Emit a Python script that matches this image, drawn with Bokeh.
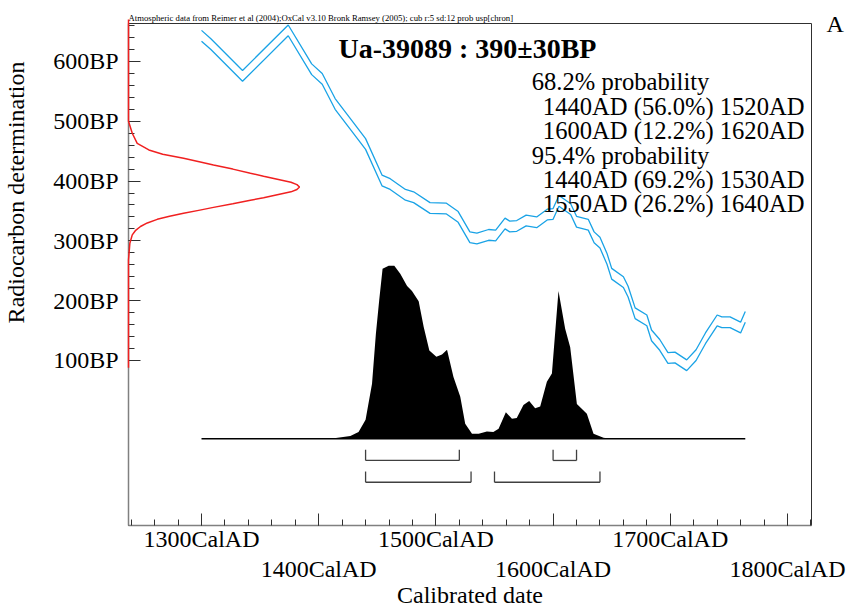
import numpy as np
from bokeh.plotting import figure
from bokeh.models import Range1d, FixedTicker, LinearAxis, Label, Title
from bokeh.embed import file_html
from bokeh.resources import INLINE

FONT = "Liberation Serif"

# ---------------- data ----------------
# calibration curve (mean BP, +/- sigma)
cal_years = [1300, 1308, 1335, 1374, 1394, 1403, 1414, 1428, 1440, 1454, 1461, 1474,
             1481, 1495, 1509, 1519, 1529, 1535, 1545, 1551, 1559, 1563, 1569, 1577,
             1586, 1595, 1600, 1605, 1615, 1620, 1630, 1635, 1640, 1646, 1650, 1660,
             1664, 1670, 1680, 1684, 1691, 1698, 1704, 1714, 1722, 1730, 1740, 1744,
             1751, 1760, 1764]
cal_bp = [643, 629, 576, 652, 587, 571, 529, 493, 462, 401, 395, 377,
          373, 355, 354, 340, 306, 304, 310, 309, 329, 324, 325, 334,
          331, 344, 345, 367, 353, 332, 327, 306, 297, 270, 245, 231,
          215, 179, 167, 142, 126, 104, 105, 92, 109, 137, 167, 164,
          164, 155, 173]
cal_sigma = 9

# posterior (relative probability)
post_years = [1300, 1410, 1427, 1434, 1440, 1445.5, 1448.8, 1451.6, 1454.5, 1459.7, 1464.5,
              1469.6, 1475.4, 1479.6, 1485.3, 1489.6, 1494.4, 1500.4, 1505.2, 1509.5,
              1515, 1520.8, 1525, 1530.8, 1536.5, 1543.5, 1549, 1553.5, 1559.7, 1564.9,
              1569, 1574.7, 1579.6, 1584.7, 1589, 1594.7, 1599, 1604.6, 1610.3, 1614.6,
              1620.3, 1628.8, 1634.5, 1643, 1648.7, 1764]
post_prob = [0, 0, 0.017, 0.039, 0.11, 0.318, 0.607, 0.80, 0.983, 1.0, 1.0,
             0.954, 0.884, 0.855, 0.795, 0.647, 0.51, 0.474, 0.488, 0.515,
             0.357, 0.243, 0.087, 0.030, 0.029, 0.042, 0.039, 0.058, 0.154, 0.116,
             0.120, 0.195, 0.218, 0.177, 0.187, 0.33, 0.378, 0.854, 0.636, 0.530,
             0.202, 0.145, 0.029, 0.006, 0, 0]

# radiocarbon date distribution on the BP axis (relative density)
date_bp = [670, 500, 480, 463, 452, 445, 438, 432, 427, 420, 413, 408, 403, 398, 394,
           390, 386, 382, 377, 372, 368, 362, 356, 351, 346, 341, 336, 330, 324, 317,
           310, 296, 268, 88]
date_density = [0, 0, 0.022, 0.051, 0.119, 0.20, 0.322, 0.42, 0.497, 0.61, 0.713, 0.79,
                0.870, 0.95, 0.985, 1.0, 0.985, 0.95, 0.870, 0.79, 0.713, 0.61, 0.497,
                0.41, 0.322, 0.24, 0.168, 0.11, 0.070, 0.04, 0.022, 0.008, 0, 0]

# highest probability ranges
range68_from = [1440, 1600]
range68_to = [1520, 1620]
range95_from = [1440, 1550]
range95_to = [1530, 1640]

y_ticks = [100, 200, 300, 400, 500, 600]
y_tick_labels = ["100BP", "200BP", "300BP", "400BP", "500BP", "600BP"]
x_ticks_row1 = [1300, 1500, 1700]
x_labels_row1 = ["1300CalAD", "1500CalAD", "1700CalAD"]
x_ticks_row2 = [1400, 1600, 1800]
x_labels_row2 = ["1400CalAD", "1600CalAD", "1800CalAD"]

title_text = "Ua-39089 : 390\u00b130BP"
subtitle_text = ("Atmospheric data from Reimer et al (2004);OxCal v3.10 Bronk Ramsey (2005); "
                 "cub r:5 sd:12 prob usp[chron]")
prob_headers = ["68.2% probability", "95.4% probability"]
prob_ranges68 = ["1440AD (56.0%) 1520AD", "1600AD (12.2%) 1620AD"]
prob_ranges95 = ["1440AD (69.2%) 1530AD", "1550AD (26.2%) 1640AD"]
x_axis_title = "Calibrated date"
y_axis_title = "Radiocarbon determination"
corner_text = "A"

# ---------------- figure ----------------
p = figure(width=848, height=610,
           x_range=Range1d(1237.7, 1820.5), y_range=Range1d(-176, 663.5),
           output_backend="svg", toolbar_location=None,
           x_axis_location=None, y_axis_location=None,
           min_border_left=128, min_border_right=37,
           min_border_top=23, min_border_bottom=85)
p.extra_y_ranges = {"prob": Range1d(-0.501, 2.401)}
p.extra_x_ranges = {"dens": Range1d(0, 3.994)}
p.outline_line_color = "#303030"
p.outline_line_width = 1
p.background_fill_color = "white"
p.border_fill_color = "white"
p.grid.visible = False
p.grid.grid_line_color = None

AX_COL = "#808080"
TICK_COL = "#303030"


def style_axis(ax, standoff):
    ax.axis_line_color = AX_COL
    ax.axis_line_width = 1.5
    ax.major_tick_in = 12
    ax.major_tick_out = 0
    ax.minor_tick_in = 6
    ax.minor_tick_out = 0
    ax.major_tick_line_color = TICK_COL
    ax.minor_tick_line_color = TICK_COL
    ax.major_label_text_font = FONT
    ax.major_label_text_font_size = "24px"
    ax.major_label_text_color = "black"
    ax.major_label_standoff = standoff


def bare_axis(ax):
    ax.axis_line_color = None
    ax.major_tick_line_color = None
    ax.minor_tick_line_color = None


all_x_ticks = sorted(x_ticks_row1 + x_ticks_row2)
overrides1 = {t: "" for t in all_x_ticks}
overrides1.update(dict(zip(x_ticks_row1, x_labels_row1)))
xaxis1 = LinearAxis(ticker=FixedTicker(ticks=all_x_ticks,
                                       minor_ticks=list(range(1240, 1821, 20))),
                    major_label_overrides=overrides1)
style_axis(xaxis1, 0)
p.add_layout(xaxis1, "below")

xaxis2 = LinearAxis(ticker=FixedTicker(ticks=x_ticks_row2, minor_ticks=[]),
                    major_label_overrides=dict(zip(x_ticks_row2, x_labels_row2)))
style_axis(xaxis2, 1)
bare_axis(xaxis2)
xaxis2.axis_label = x_axis_title
xaxis2.axis_label_text_font = FONT
xaxis2.axis_label_text_font_size = "24px"
xaxis2.axis_label_text_font_style = "normal"
xaxis2.axis_label_text_color = "black"
xaxis2.axis_label_standoff = -3
p.add_layout(xaxis2, "below")

yaxis = LinearAxis(ticker=FixedTicker(ticks=y_ticks, minor_ticks=list(range(120, 661, 20))),
                   major_label_overrides=dict(zip(y_ticks, y_tick_labels)))
style_axis(yaxis, 10)
p.add_layout(yaxis, "left")

# y-axis title, centred on the labelled BP part of the axis
ytitle_axis = LinearAxis(ticker=FixedTicker(ticks=[381], minor_ticks=[]),
                         major_label_overrides={381: y_axis_title},
                         major_label_orientation="parallel")
style_axis(ytitle_axis, 21)
bare_axis(ytitle_axis)
p.add_layout(ytitle_axis, "left")

p.add_layout(Title(text=subtitle_text, align="left", standoff=2,
                   text_font=FONT, text_font_size="8.7px", text_font_style="normal",
                   text_color="black"), "above")

raxis = LinearAxis(ticker=FixedTicker(ticks=[663], minor_ticks=[]),
                   major_label_overrides={663: corner_text})
style_axis(raxis, 15)
bare_axis(raxis)
p.add_layout(raxis, "right")

# calibration curve
bp = np.array(cal_bp, dtype=float)
BLUE = "#1aa3e6"
p.line(cal_years, bp + cal_sigma, line_color=BLUE, line_width=1.3)
p.line(cal_years, bp - cal_sigma, line_color=BLUE, line_width=1.3)

# posterior
p.varea(x=post_years, y1=0, y2=post_prob, y_range_name="prob", fill_color="black")
p.line([post_years[0], post_years[-1]], [0, 0], y_range_name="prob",
       line_color="black", line_width=1.5)

# ranges
BAR_COL = "#404040"
for lvl, starts, ends in ((-0.125, range68_from, range68_to),
                          (-0.251, range95_from, range95_to)):
    n = len(starts)
    p.segment(x0=starts, x1=ends, y0=[lvl] * n, y1=[lvl] * n, y_range_name="prob",
              line_color=BAR_COL, line_width=1.3)
    p.segment(x0=starts, x1=starts, y0=[lvl] * n, y1=[lvl + 0.062] * n, y_range_name="prob",
              line_color=BAR_COL, line_width=1.3)
    p.segment(x0=ends, x1=ends, y0=[lvl] * n, y1=[lvl + 0.062] * n, y_range_name="prob",
              line_color=BAR_COL, line_width=1.3)

# radiocarbon date distribution
p.line(date_density, date_bp, x_range_name="dens", line_color="#f02020",
       line_width=1.5, level="overlay")

# ---------------- texts inside the frame ----------------
def add_label(x, y, text, size, align="left", bold=False):
    p.add_layout(Label(x=x, y=y, text=text, text_font=FONT, text_font_size=size,
                       text_align=align, text_baseline="alphabetic",
                       text_font_style="bold" if bold else "normal",
                       text_color="black"))


add_label(1526.9, 621.2, title_text, "28px", align="center", bold=True)
head_x = 1581.8
range_x = 1814.5
ys = [566.5, 525.5, 484.6, 443.5, 402.6, 361.7]
add_label(head_x, ys[0], prob_headers[0], "24.6px")
add_label(range_x, ys[1], prob_ranges68[0], "24.6px", align="right")
add_label(range_x, ys[2], prob_ranges68[1], "24.6px", align="right")
add_label(head_x, ys[3], prob_headers[1], "24.6px")
add_label(range_x, ys[4], prob_ranges95[0], "24.6px", align="right")
add_label(range_x, ys[5], prob_ranges95[1], "24.6px", align="right")

open("out.html", "w").write(file_html(p, INLINE))
